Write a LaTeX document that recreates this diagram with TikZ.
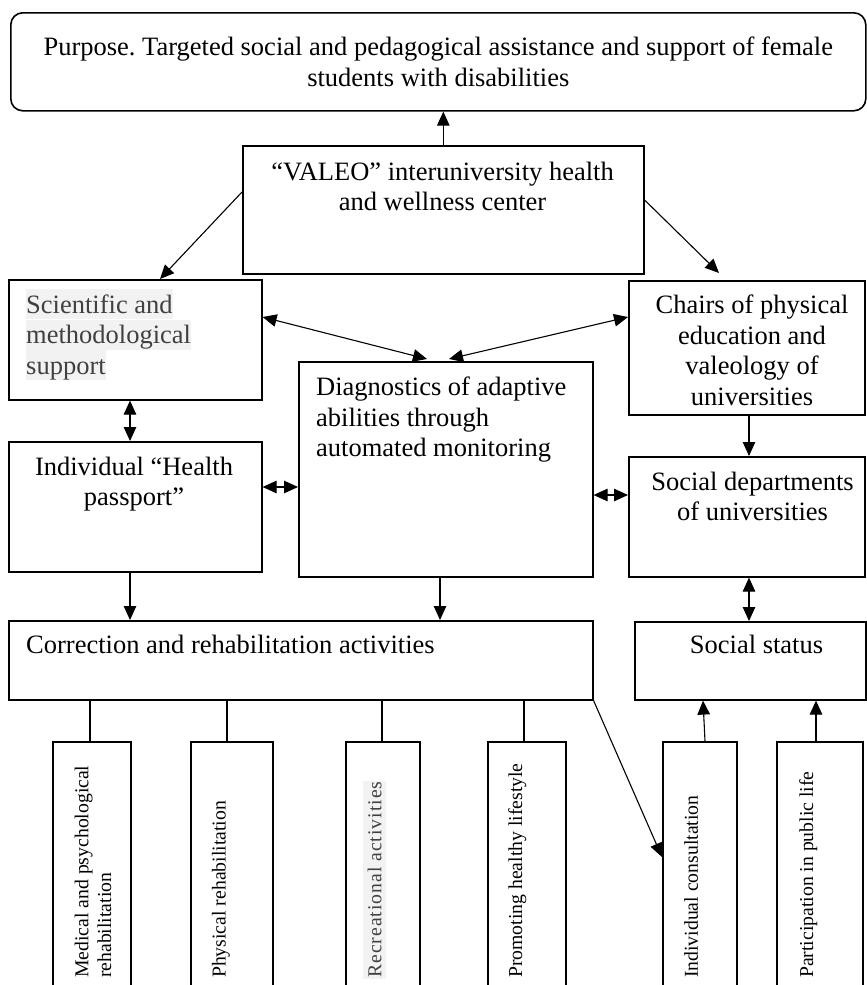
\documentclass[tikz,border=0pt]{standalone}
\usepackage{fontspec}
\setmainfont{Liberation Serif}
\usetikzlibrary{arrows.meta}
\definecolor{hlgray}{HTML}{F2F2F2}
\definecolor{txtgray}{HTML}{404040}
\newcommand{\hlline}[1]{\colorbox{hlgray}{\rule[-6pt]{0pt}{30pt}#1}}
\setlength{\fboxsep}{0pt}
\frenchspacing

\begin{document}
\begin{tikzpicture}[x=1pt,y=-1pt,
    blk/.style={draw, line width=1.6pt, inner sep=0pt, anchor=north west},
    txt/.style={inner sep=0pt, font=\fontsize{26.5}{30.5}\selectfont},
    vtxt/.style={inner sep=0pt, rotate=90, anchor=north west, align=left,
        font=\fontsize{19.7}{22.6}\selectfont},
    arr/.style={line width=1.1pt, -{Triangle[length=14pt,width=12.5pt]}},
    darr/.style={line width=1.1pt,
        {Triangle[length=14pt,width=12.5pt]}-{Triangle[length=14pt,width=12.5pt]}}]
    \useasboundingbox (0,0) rectangle (867,985);

    % top
    \node[blk, rounded corners=12pt, minimum width=855pt, minimum height=98pt,
        txt, align=center] (purpose) at (10,12)
        {Purpose. Targeted social and pedagogical assistance and support of female\\students with disabilities};

    \node[blk, minimum width=401pt, minimum height=128pt] (valeo) at (242,145) {};
    \node[txt, align=center, anchor=north] (valeotxt) at (442.5,161.7)
        {“VALEO” interuniversity health\\and wellness center};

    % second row
    \node[blk, minimum width=253pt, minimum height=120pt] (sci) at (8,279) {};
    \node[txt, align=left, anchor=north west, text=txtgray] (scitxt) at (26,289)
        {\hlline{Scientific and}\\\hlline{methodological}\\\hlline{support}};

    \node[blk, minimum width=236pt, minimum height=134pt] (chairs) at (628,280) {};
    \node[txt, align=center, anchor=north] (chairstxt) at (752,294.7)
        {Chairs of physical\\education and\\valeology of\\universities};

    \node[blk, minimum width=294pt, minimum height=215pt] (diag) at (298,361) {};
    \node[txt, align=left, anchor=north west] (diagtxt) at (316,376.7)
        {Diagnostics of adaptive\\abilities through\\automated monitoring};

    % third row
    \node[blk, minimum width=253pt, minimum height=130pt] (indiv) at (8,441) {};
    \node[txt, align=center, anchor=north] (indivtxt) at (134,456.7)
        {Individual “Health\\passport”};

    \node[blk, minimum width=236pt, minimum height=120pt] (socdep) at (628,456) {};
    \node[txt, align=center, anchor=north] (socdeptxt) at (752.5,471.7)
        {Social departments\\of universities};

    % activities
    \node[blk, minimum width=584pt, minimum height=79pt] (corr) at (8,620) {};
    \node[txt, anchor=base west] (corrtxt) at (26,653)
        {Correction and rehabilitation activities};

    \node[blk, minimum width=231pt, minimum height=78pt] (status) at (634,621) {};
    \node[txt, anchor=base] (statustxt) at (756.5,653) {Social status};

    % vertical boxes
    \node[blk, minimum width=78pt, minimum height=260pt] (medic) at (52,741) {};
    \node[vtxt] (medictxt) at (74.6,978) {Medical and psychological\\rehabilitation};

    \node[blk, minimum width=82pt, minimum height=260pt] (physic) at (190,741) {};
    \node[vtxt] (physictxt) at (211.8,978) {Physical rehabilitation};

    \node[blk, minimum width=74pt, minimum height=260pt] (recre) at (345,741) {};
    \node[vtxt, fill=hlgray, text=txtgray, inner xsep=1pt, inner ysep=4.5pt]
        (recretxt) at (363,979) {\addfontfeature{LetterSpace=5}Recreational activities};

    \node[blk, minimum width=78pt, minimum height=260pt] (healthy) at (487,741) {};
    \node[vtxt] (healthytxt) at (508,978) {Promoting healthy lifestyle};

    \node[blk, minimum width=74pt, minimum height=260pt] (consult) at (662,741) {};
    \node[vtxt] (consulttxt) at (684,978) {Individual consultation};

    \node[blk, minimum width=86pt, minimum height=260pt] (public) at (776,741) {};
    \node[vtxt] (publictxt) at (799,978) {Participation in public life};

    % connectors
    \draw[arr] (valeo.north) -- (valeo.north |- purpose.south);
    \draw[arr] ([yshift=-47pt]valeo.north west) -- ([xshift=152pt]sci.north west);
    \draw[arr] ([yshift=-55pt]valeo.north east) -- ([xshift=91pt,yshift=7pt]chairs.north west);
    \draw[darr] ([yshift=-38pt]sci.north east) -- ([xshift=129pt,yshift=2pt]diag.north west);
    \draw[darr] ([yshift=-37pt]chairs.north west) -- ([xshift=151pt,yshift=2pt]diag.north west);
    \draw[darr] ([xshift=122pt]sci.south west) -- ([xshift=122pt]indiv.north west);
    \draw[darr] ([yshift=-46pt]indiv.north east) -- ([yshift=-126pt]diag.north west);
    \draw[darr] ([yshift=-134pt]diag.north east) -- ([yshift=-39pt]socdep.north west);
    \draw[arr] ([xshift=121pt]chairs.south west) -- ([xshift=121pt]socdep.north west);
    \draw[arr] ([xshift=122pt]indiv.south west) -- ([xshift=122pt]corr.north west);
    \draw[arr] ([xshift=142pt]diag.south west) -- ([xshift=432pt]corr.north west);
    \draw[darr] ([xshift=121pt]socdep.south west) -- ([xshift=115pt]status.north west);

    \draw[line width=1.1pt] ([xshift=38pt]medic.north west) -- ([xshift=82pt]corr.south west);
    \draw[line width=1.1pt] ([xshift=37pt]physic.north west) -- ([xshift=219pt]corr.south west);
    \draw[line width=1.1pt] ([xshift=37pt]recre.north west) -- ([xshift=374pt]corr.south west);
    \draw[line width=1.1pt] ([xshift=37pt]healthy.north west) -- ([xshift=516pt]corr.south west);
    \draw[arr] (corr.south east) -- ([yshift=-116pt]consult.north west);
    \draw[arr] ([xshift=43pt]consult.north west) -- ([xshift=69pt]status.south west);
    \draw[arr] ([xshift=40pt]public.north west) -- ([xshift=182pt]status.south west);
\end{tikzpicture}
\end{document}
